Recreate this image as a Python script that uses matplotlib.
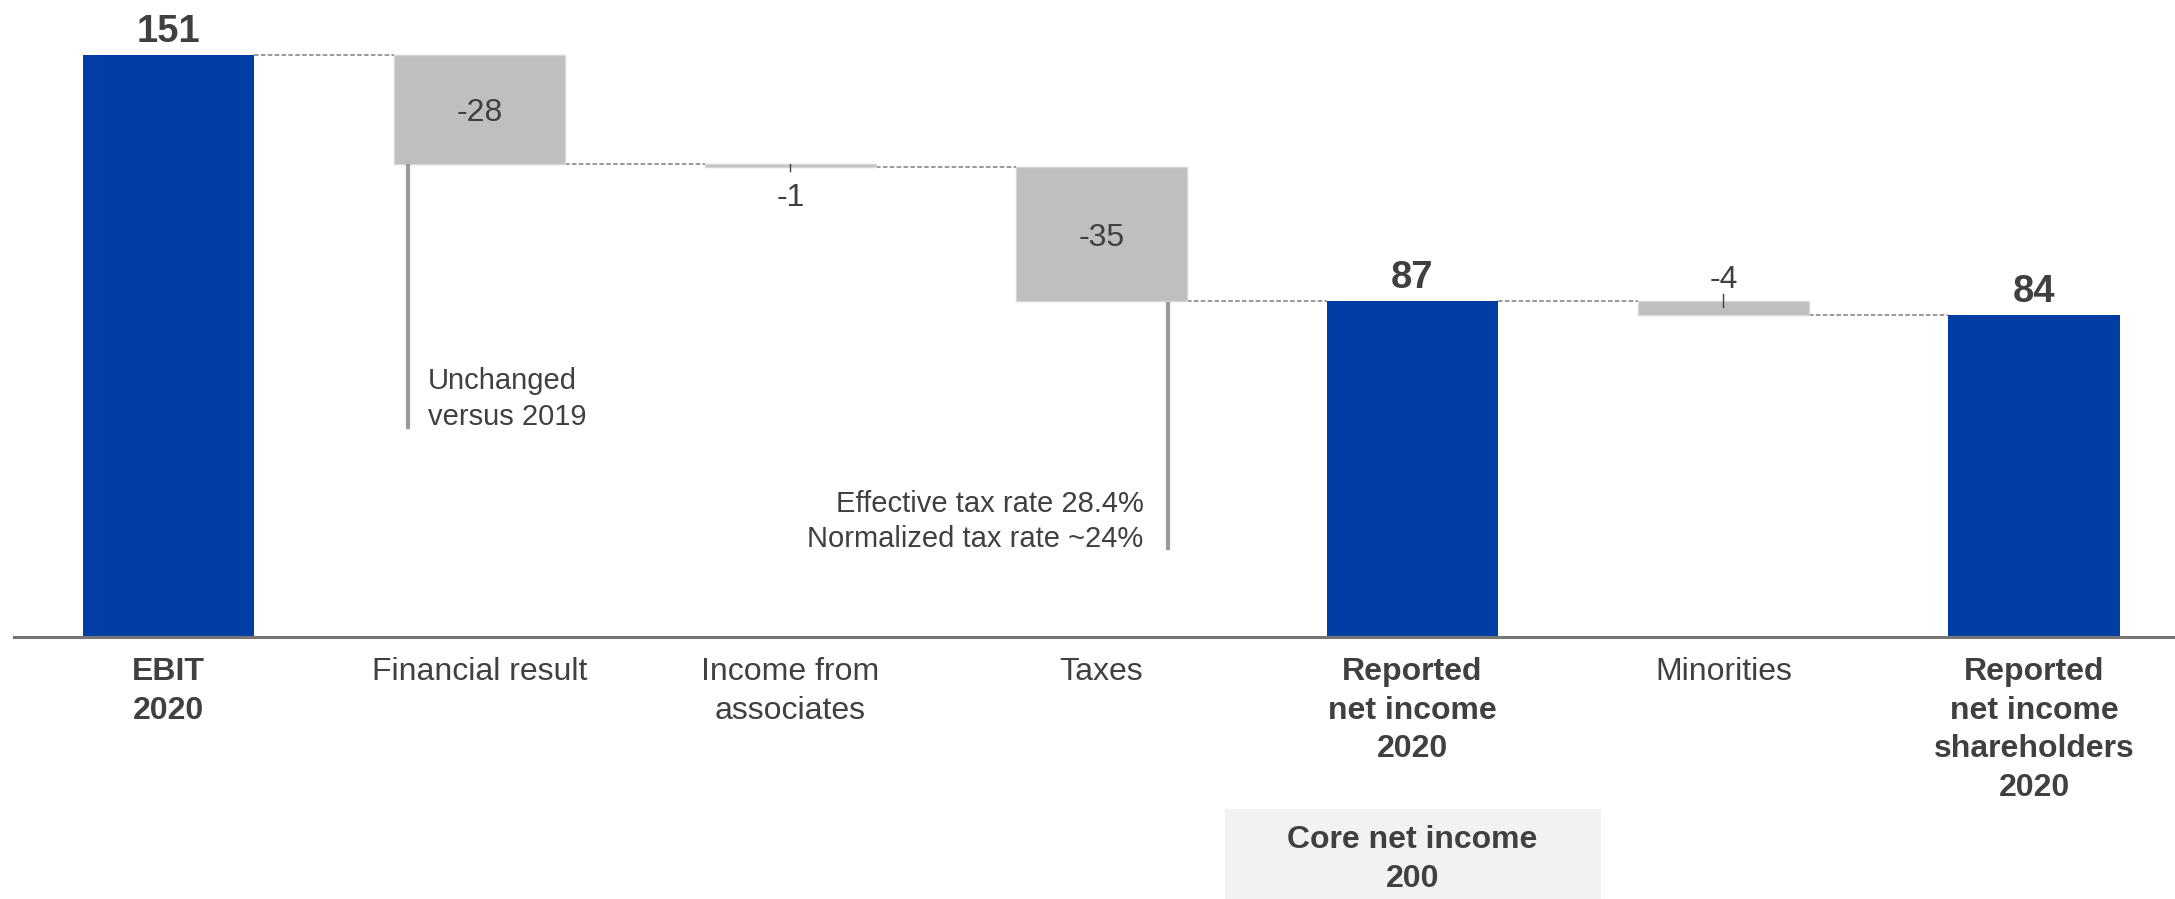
import matplotlib
matplotlib.use('Agg')
import matplotlib.pyplot as plt
from matplotlib.patches import Rectangle

plt.rcParams['font.family'] = ['Liberation Sans', 'DejaVu Sans']

# Waterfall data (EUR m)
categories = ['EBIT\n2020', 'Financial result', 'Income from\nassociates', 'Taxes',
              'Reported\nnet income\n2020', 'Minorities',
              'Reported\nnet income\nshareholders\n2020']
is_total = [True, False, False, False, True, False, True]
steps = [151.0, -28.2, -0.8, -34.8, 0.0, -3.6, 0.0]

core_label = 'Core net income\n200'
note_fin = 'Unchanged\nversus 2019'
note_tax = 'Effective tax rate 28.4%\nNormalized tax rate ~24%'

blue = '#003DA5'
grey = '#BFBFBF'
text_col = '#404040'
bar_w = 0.553

# Compute bar bottoms/tops from the running total
bottoms, tops = [], []
running = 0.0
for step, total in zip(steps, is_total):
    if total:
        bottoms.append(0.0)
        tops.append(running if step == 0 else step)
        running = tops[-1]
    else:
        tops.append(running)
        running += step
        bottoms.append(running)

fig = plt.figure(figsize=(21.75, 8.99), dpi=100)
ax = fig.add_axes([0, 0, 1, 1])
ax.set_xlim(-0.5418, 6.4518)
ax.set_ylim(-68.0, 165.4)
ax.axis('off')

x = list(range(len(categories)))

# Bars
for i in x:
    h = tops[i] - bottoms[i]
    if is_total[i]:
        ax.bar(i, h, bottom=bottoms[i], width=bar_w, color=blue, zorder=2)
    else:
        ax.bar(i, h, bottom=bottoms[i], width=bar_w, color=grey,
               edgecolor='#D6D6D6', linewidth=1, zorder=2)

# Dashed connectors between bars
for i in x[:-1]:
    level = tops[i] if is_total[i] else bottoms[i]
    ax.plot([i + bar_w / 2, i + 1 - bar_w / 2], [level, level], color='#7F7F7F',
            lw=1.1, linestyle=(0, (3, 1.5)), zorder=1)

# Baseline
ax.axhline(0, xmin=0.0064, xmax=1, color='#767676', lw=2.2, zorder=3)

# Value labels
for i in x:
    if is_total[i]:
        ax.annotate(f'{round(tops[i]):d}', (i, tops[i]), xytext=(0, 9.7),
                    textcoords='offset points', ha='center', va='baseline',
                    fontsize=27.5, fontweight='bold', color=text_col)

# Large deltas: label inside the bar
for i in [1, 3]:
    ax.text(i, (tops[i] + bottoms[i]) / 2, f'{round(steps[i]):d}', ha='center',
            va='center_baseline', fontsize=23, color=text_col, zorder=4)

# Small deltas: tick plus label outside
ax.plot([2, 2], [tops[2], bottoms[2] - 1.0], color=text_col, lw=1, zorder=4)
ax.annotate(f'{round(steps[2]):d}', (2, bottoms[2]), xytext=(0, -11.3),
            textcoords='offset points', ha='center', va='top', fontsize=23,
            color=text_col)
ax.plot([5, 5], [tops[5] + 1.8, tops[5] - 1.5], color=text_col, lw=1, zorder=4)
ax.annotate(f'{round(steps[5]):d}', (5, tops[5]), xytext=(0, 9.4),
            textcoords='offset points', ha='center', va='baseline', fontsize=23,
            color=text_col)

# Category labels
for i in x:
    ax.text(i, -5.2, categories[i], ha='center', va='top', fontsize=23,
            linespacing=1.37, color=text_col,
            fontweight='bold' if is_total[i] else 'normal')

# Notes with vertical markers
ax.plot([0.77, 0.77], [bottoms[1] - 0.5, 54.5], color='#999999', lw=3, zorder=2)
ax.text(0.834, 70.0, note_fin, ha='left', va='top', fontsize=21,
        linespacing=1.35, color=text_col)
ax.plot([3.215, 3.215], [bottoms[3] - 0.8, 23.1], color='#999999', lw=3, zorder=2)
ax.text(3.135, 38.3, note_tax, ha='right', va='top', fontsize=21,
        linespacing=1.35, multialignment='right', color=text_col)

# Core net income box under the reported net income bar
ax.add_patch(Rectangle((3.396, -70), 1.209, 70 - 44.56, facecolor='#F2F2F2',
                       edgecolor='none', zorder=1))
ax.text(4, -48.8, core_label, ha='center', va='top', fontsize=23,
        fontweight='bold', linespacing=1.4, color=text_col, zorder=2)

plt.savefig('out.png', dpi=100)
print('Plot saved to out.png')
